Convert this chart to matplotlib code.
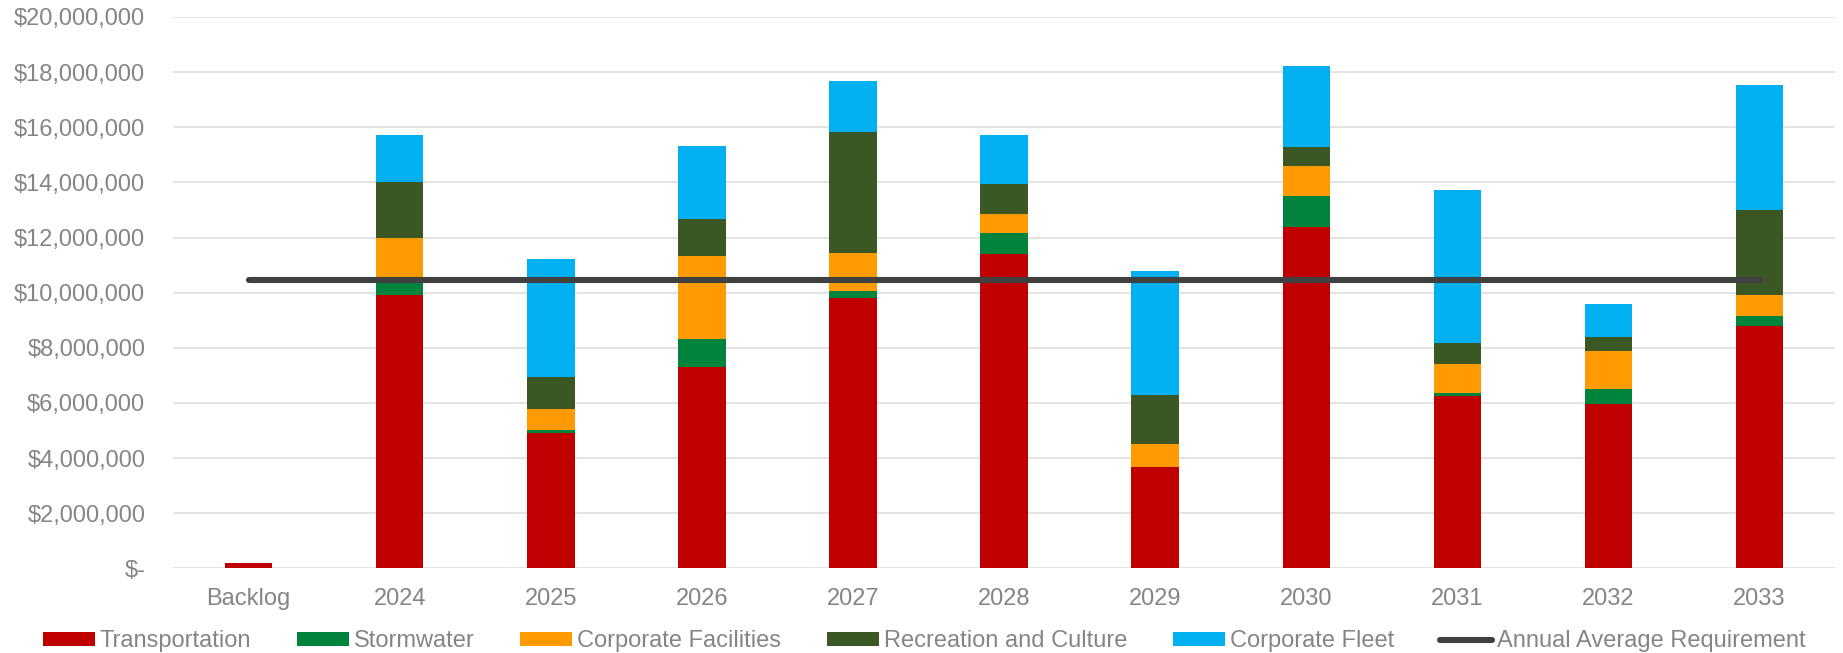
import matplotlib
matplotlib.use("Agg")
import matplotlib.pyplot as plt
from matplotlib.ticker import FuncFormatter
import numpy as np

categories = ["Backlog", "2024", "2025", "2026", "2027", "2028", "2029", "2030", "2031", "2032", "2033"]

transportation = [0.18e6, 9.90e6, 4.90e6, 7.31e6, 9.79e6, 11.39e6, 3.69e6, 12.39e6, 6.25e6, 5.97e6, 8.78e6]
stormwater = [0, 0.55e6, 0.12e6, 1.00e6, 0.28e6, 0.78e6, 0, 1.12e6, 0.12e6, 0.53e6, 0.38e6]
corporate_facilities = [0, 1.55e6, 0.76e6, 3.02e6, 1.38e6, 0.69e6, 0.82e6, 1.09e6, 1.03e6, 1.37e6, 0.76e6]
recreation_culture = [0, 2.00e6, 1.16e6, 1.35e6, 4.39e6, 1.07e6, 1.78e6, 0.67e6, 0.76e6, 0.53e6, 3.09e6]
corporate_fleet = [0, 1.73e6, 4.27e6, 2.63e6, 1.83e6, 1.79e6, 4.48e6, 2.94e6, 5.55e6, 1.20e6, 4.53e6]
annual_average = 10.46e6

series = [
    ("Transportation", transportation, "#C00000"),
    ("Stormwater", stormwater, "#00843D"),
    ("Corporate Facilities", corporate_facilities, "#FF9A00"),
    ("Recreation and Culture", recreation_culture, "#3A5724"),
    ("Corporate Fleet", corporate_fleet, "#00B0F0"),
]

plt.rcParams["font.family"] = ["Liberation Sans", "DejaVu Sans"]
label_color = "#858585"

fig = plt.figure(figsize=(18.43, 6.53), dpi=100)
ax = fig.add_axes([0.0939, 0.1297, 0.9018, 0.8443])

x = np.arange(len(categories))
bottom = np.zeros(len(categories))
handles = []
for name, vals, color in series:
    vals = np.array(vals, dtype=float)
    h = ax.bar(x, vals, width=0.314, bottom=bottom, color=color, label=name, zorder=2,
               linewidth=0)
    handles.append(h)
    bottom += vals

line, = ax.plot(x, [annual_average] * len(x), color="#404040", lw=4.4,
                solid_capstyle="round", zorder=3, label="Annual Average Requirement")
handles.append(line)

ax.set_xlim(-0.5, 10.5)
ax.set_ylim(0, 20e6)
ax.set_yticks(np.arange(0, 20e6 + 1, 2e6))
ax.yaxis.set_major_formatter(FuncFormatter(lambda v, p: "$-" if v == 0 else f"${v:,.0f}"))
ax.set_xticks(x)
ax.set_xticklabels(categories)
ax.tick_params(axis="both", length=0, labelsize=17, colors=label_color)
ax.tick_params(axis="x", pad=14)
ax.tick_params(axis="y", pad=20)
ax.grid(axis="y", color="#E0E0E0", lw=1.3, zorder=0)
ax.set_axisbelow(True)
for s in ax.spines.values():
    s.set_visible(False)

leg = fig.legend(handles=handles, loc="center", bbox_to_anchor=(0.5015, 0.018), ncol=6,
                 frameon=False, fontsize=17, handlelength=2.2, handleheight=0.55,
                 handletextpad=0.22, columnspacing=1.93, borderaxespad=0, borderpad=0)
for t in leg.get_texts():
    t.set_color(label_color)

fig.savefig("out.png", dpi=100)
